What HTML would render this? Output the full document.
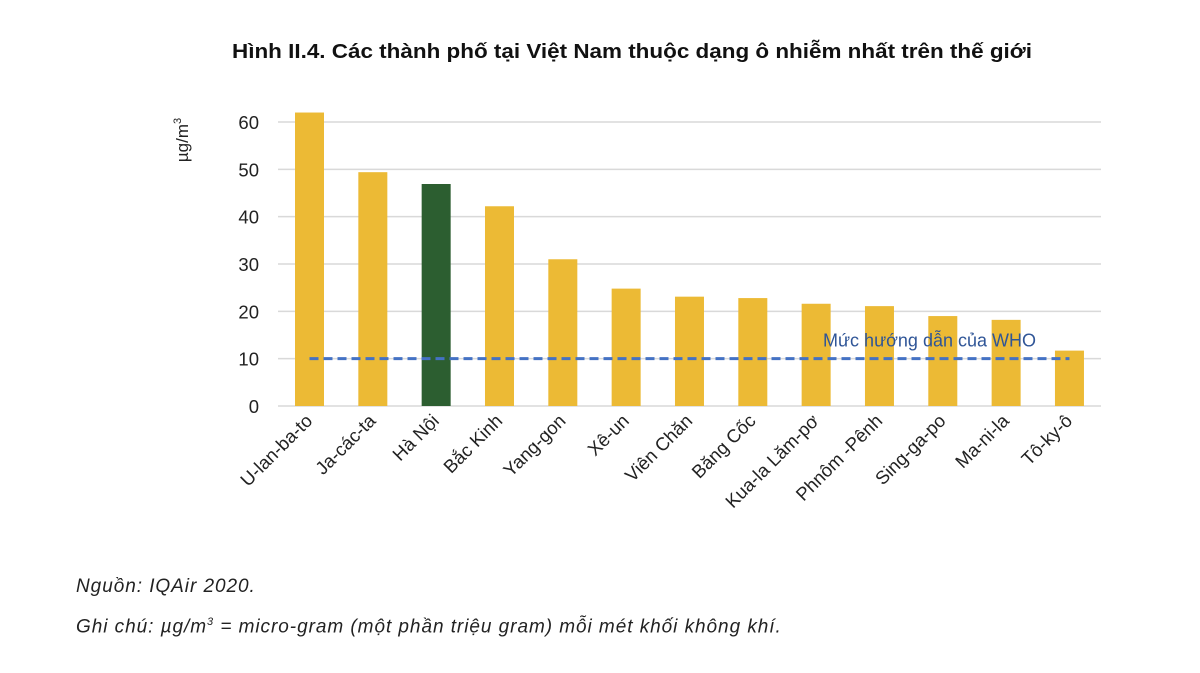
<!DOCTYPE html>
<html><head><meta charset="utf-8"><style>
body{margin:0;background:#fff;font-family:"Liberation Sans",sans-serif}
#wrap{position:relative;width:1200px;height:673px;overflow:hidden}
.note{position:absolute;left:76px;font-size:19px;letter-spacing:0.95px;font-style:italic;color:#222;white-space:nowrap}
</style></head><body>
<div id="wrap">
<svg id="chart" width="1200" height="673" style="position:absolute;left:0;top:0">
<text x="232" y="58" textLength="800" lengthAdjust="spacingAndGlyphs" font-size="20" font-weight="bold" fill="#111">Hình II.4. Các thành phố tại Việt Nam thuộc dạng ô nhiễm nhất trên thế giới</text>
<text transform="translate(188,140) rotate(-90)" text-anchor="middle" font-size="17" fill="#222">µg/m<tspan font-size="11" dy="-7">3</tspan></text>
<g id="grid"></g><g id="bars"></g><g id="xl"></g><g id="who"></g>
</svg>
<div class="note" style="top:576px">Nguồn: IQAir 2020.</div>
<div class="note" style="top:616px">Ghi chú: µg/m<sup style="font-size:11px">3</sup> = micro-gram (một phần triệu gram) mỗi mét khối không khí.</div>
</div>
<script>
const categories=["U-lan-ba-to","Ja-các-ta","Hà Nội","Bắc Kinh","Yang-gon","Xê-un","Viên Chăn","Băng Cốc","Kua-la Lăm-pơ","Phnôm -Pênh","Sing-ga-po","Ma-ni-la","Tô-ky-ô"];
const values=[62,49.4,46.9,42.2,31,24.8,23.1,22.8,21.6,21.1,19,18.2,11.7];
const highlight=["Hà Nội"];
const ticks=[0,10,20,30,40,50,60];
const whoValue=10;
const NS="http://www.w3.org/2000/svg";
const y=v=>406-v*(284/60);
const x=i=>309.5+i*63.33;
function mk(t,a,p){const e=document.createElementNS(NS,t);for(const k in a)e.setAttribute(k,a[k]);p.appendChild(e);return e;}
const G=document.getElementById('grid'),B=document.getElementById('bars'),XL=document.getElementById('xl'),W=document.getElementById('who');
ticks.forEach(t=>{
 const l=mk('line',{x1:278,x2:1101,y1:y(t),y2:y(t),stroke:'#d9d9d9','stroke-width':1.5},G);
 
 
 const tx=mk('text',{x:259,y:y(t)+7,'text-anchor':'end','font-size':18.5,fill:'#222'},G);
 tx.textContent=t;
 
 
});
categories.forEach((c,i)=>{
 const r=mk('rect',{x:x(i)-14.5,y:y(values[i]),width:29,height:y(0)-y(values[i]),fill:highlight.includes(c)?'#2C5E30':'#ECBA35'},B);
 
 
 const t=mk('text',{transform:`translate(${x(i)+4},422) rotate(-45)`,'text-anchor':'end','font-size':18.5,fill:'#222'},XL);
 t.textContent=c;
 
 
});
const wl=mk('line',{x1:x(0),x2:x(categories.length-1),y1:y(whoValue),y2:y(whoValue),stroke:'#4472C4','stroke-width':3,'stroke-dasharray':'9,5'},W);


const wt=mk('text',{x:1036,y:y(whoValue)-12,'text-anchor':'end','font-size':18,fill:'#2F5597'},W);
wt.textContent='Mức hướng dẫn của WHO';


</script>
</body></html>
